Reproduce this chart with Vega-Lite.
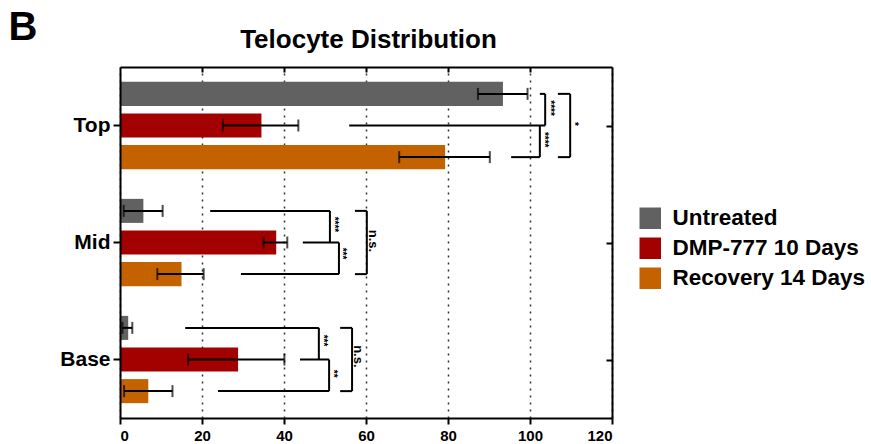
{
  "$schema": "https://vega.github.io/schema/vega-lite/v6.json",
  "width": 492,
  "height": 351,
  "autosize": {"type": "none"},
  "padding": {"left": 120, "top": 67, "right": 259, "bottom": 26},
  "background": "white",
  "config": {"font": "Liberation Sans", "view": {"stroke": null}},
  "datasets": {
    "bars": [
      {"region": "Top", "group": "Untreated", "mean": 93.4, "lo": 87.3, "hi": 99.4},
      {"region": "Top", "group": "DMP-777 10 Days", "mean": 34.5, "lo": 25.1, "hi": 43.5},
      {"region": "Top", "group": "Recovery 14 Days", "mean": 79.3, "lo": 68.1, "hi": 90.2},
      {"region": "Mid", "group": "Untreated", "mean": 5.7, "lo": 0.9, "hi": 10.4},
      {"region": "Mid", "group": "DMP-777 10 Days", "mean": 38.1, "lo": 35.0, "hi": 40.8},
      {"region": "Mid", "group": "Recovery 14 Days", "mean": 15.0, "lo": 9.1, "hi": 20.4},
      {"region": "Base", "group": "Untreated", "mean": 2.0, "lo": 0.6, "hi": 3.0},
      {"region": "Base", "group": "DMP-777 10 Days", "mean": 28.8, "lo": 16.6, "hi": 40.1},
      {"region": "Base", "group": "Recovery 14 Days", "mean": 6.9, "lo": 1.0, "hi": 12.8}
    ],
    "segs": [
      {"x1": 55.9, "x2": 103.7, "y1": 1.85, "y2": 1.85},
      {"x1": 102.4, "x2": 103.7, "y1": 0.85, "y2": 0.85},
      {"x1": 103.7, "x2": 103.7, "y1": 0.85, "y2": 1.85},
      {"x1": 95.4, "x2": 102.4, "y1": 2.85, "y2": 2.85},
      {"x1": 102.4, "x2": 102.4, "y1": 1.85, "y2": 2.85},
      {"x1": 109.8, "x2": 109.8, "y1": 0.85, "y2": 2.85},
      {"x1": 106.8, "x2": 109.8, "y1": 0.85, "y2": 0.85},
      {"x1": 106.8, "x2": 109.8, "y1": 2.85, "y2": 2.85},
      {"x1": 22.0, "x2": 51.2, "y1": 4.55, "y2": 4.55},
      {"x1": 51.2, "x2": 51.2, "y1": 4.55, "y2": 5.55},
      {"x1": 44.6, "x2": 53.4, "y1": 5.55, "y2": 5.55},
      {"x1": 53.4, "x2": 53.4, "y1": 5.55, "y2": 6.55},
      {"x1": 29.5, "x2": 53.4, "y1": 6.55, "y2": 6.55},
      {"x1": 60.2, "x2": 60.2, "y1": 4.55, "y2": 6.55},
      {"x1": 57.3, "x2": 60.2, "y1": 4.55, "y2": 4.55},
      {"x1": 57.3, "x2": 60.2, "y1": 6.55, "y2": 6.55},
      {"x1": 15.9, "x2": 48.5, "y1": 8.25, "y2": 8.25},
      {"x1": 48.5, "x2": 48.5, "y1": 8.25, "y2": 9.25},
      {"x1": 43.9, "x2": 51.0, "y1": 9.25, "y2": 9.25},
      {"x1": 51.0, "x2": 51.0, "y1": 9.25, "y2": 10.25},
      {"x1": 23.9, "x2": 51.0, "y1": 10.25, "y2": 10.25},
      {"x1": 56.6, "x2": 56.6, "y1": 8.25, "y2": 10.25},
      {"x1": 53.7, "x2": 56.6, "y1": 8.25, "y2": 8.25},
      {"x1": 53.7, "x2": 56.6, "y1": 10.25, "y2": 10.25}
    ],
    "labels": [
      {"x": 104.9, "y": 1.3, "label": "****"},
      {"x": 103.5, "y": 2.3, "label": "****"},
      {"x": 110.8, "y": 1.8, "label": "*"},
      {"x": 52.1, "y": 4.98, "label": "****"},
      {"x": 54.2, "y": 5.9, "label": "***"},
      {"x": 61.7, "y": 5.5, "label": "n.s."},
      {"x": 49.6, "y": 8.65, "label": "***"},
      {"x": 51.9, "y": 9.7, "label": "**"},
      {"x": 58.0, "y": 9.15, "label": "n.s."}
    ]
  },
  "layer": [
    {
      "data": {"name": "bars"},
      "encoding": {
        "y": {
          "field": "region", "type": "nominal",
          "scale": {"domain": ["Top", "Mid", "Base"], "paddingInner": 0, "paddingOuter": 0},
          "axis": {"orient": "left", "title": "B", "titleAngle": 0, "titleX": -97.5, "titleY": -28, "titleAlign": "center", "titleBaseline": "alphabetic", "titleFontSize": 40, "titleFontWeight": "bold", "titleColor": "black", "labelFontSize": 21, "labelFontWeight": "bold", "labelColor": "black", "labelPadding": 3, "tickSize": 7, "tickWidth": 2, "tickColor": "black", "domainColor": "black", "domainWidth": 2, "zindex": 1}
        },
        "yOffset": {
          "field": "group", "type": "nominal",
          "scale": {"domain": ["Untreated", "DMP-777 10 Days", "Recovery 14 Days"], "paddingInner": 0.24, "paddingOuter": 0.47}
        }
      },
      "layer": [
        {
          "mark": {"type": "bar"},
          "encoding": {
            "x": {"field": "mean", "type": "quantitative", "scale": {"domain": [0, 120]},
              "axis": {"orient": "bottom", "title": null, "values": [0, 20, 40, 60, 80, 100, 120], "grid": true, "gridDash": [2, 5], "gridColor": "#333333", "gridWidth": 1.5, "domainColor": "black", "domainWidth": 2, "tickColor": "black", "tickWidth": 2, "tickSize": 6, "labelFontSize": 15, "labelFontWeight": "bold", "labelColor": "black", "labelPadding": 4}},
            "color": {"field": "group", "type": "nominal",
              "scale": {"domain": ["Untreated", "DMP-777 10 Days", "Recovery 14 Days"], "range": ["#616161", "#a30000", "#c46200"]},
              "legend": {"title": null, "orient": "none", "legendX": 519, "legendY": 140, "symbolType": "square", "symbolSize": 462, "symbolStrokeWidth": 0, "labelFontSize": 22.5, "labelFontWeight": "bold", "labelColor": "black", "labelOffset": 11, "labelLimit": 400, "rowPadding": 7, "padding": 0}}
          }
        },
        {
          "mark": {"type": "rule", "color": "black", "strokeWidth": 2},
          "encoding": {
            "x": {"field": "lo", "type": "quantitative", "axis": {"title": null}},
            "x2": {"field": "hi"}
          }
        },
        {
          "mark": {"type": "tick", "color": "black", "thickness": 2, "size": 12},
          "encoding": {"x": {"field": "lo", "type": "quantitative", "axis": {"title": null}}}
        },
        {
          "mark": {"type": "tick", "color": "black", "thickness": 2, "size": 12},
          "encoding": {"x": {"field": "hi", "type": "quantitative", "axis": {"title": null}}}
        }
      ]
    },
    {
      "layer": [
        {
          "data": {"name": "segs"},
          "mark": {"type": "rule", "color": "black", "strokeWidth": 2},
          "encoding": {
            "x": {"field": "x1", "type": "quantitative",
              "axis": {"orient": "top", "title": "Telocyte Distribution", "titleX": 248, "titleY": -20, "titleAlign": "center", "titleBaseline": "alphabetic", "titleFontSize": 26, "titleFontWeight": "bold", "titleColor": "black", "values": [20, 40, 60, 80, 100], "labels": false, "grid": false, "tickSize": -5, "tickWidth": 2, "tickColor": "black", "domainColor": "black", "domainWidth": 2}},
            "x2": {"field": "x2"},
            "y": {"field": "y1", "type": "quantitative", "scale": {"domain": [0, 11.1], "reverse": true, "nice": false, "zero": false},
              "axis": {"orient": "right", "title": null, "values": [1.85, 5.55, 9.25], "labels": false, "grid": false, "tickSize": -6, "tickWidth": 2, "tickColor": "black", "domainColor": "black", "domainWidth": 2}},
            "y2": {"field": "y2"}
          }
        },
        {
          "data": {"name": "labels"},
          "transform": [{"filter": "datum.label != 'n.s.'"}],
          "mark": {"type": "text", "angle": 90, "fontSize": 10, "fontWeight": "bold", "color": "black", "align": "center", "baseline": "middle"},
          "encoding": {
            "x": {"field": "x", "type": "quantitative"},
            "y": {"field": "y", "type": "quantitative"},
            "text": {"field": "label"}
          }
        },
        {
          "data": {"name": "labels"},
          "transform": [{"filter": "datum.label == 'n.s.'"}],
          "mark": {"type": "text", "angle": 90, "fontSize": 13, "fontWeight": "bold", "color": "black", "align": "center", "baseline": "middle"},
          "encoding": {
            "x": {"field": "x", "type": "quantitative"},
            "y": {"field": "y", "type": "quantitative"},
            "text": {"field": "label"}
          }
        }
      ]
    }
  ],
  "resolve": {"scale": {"y": "independent"}, "axis": {"x": "independent", "y": "independent"}}
}
